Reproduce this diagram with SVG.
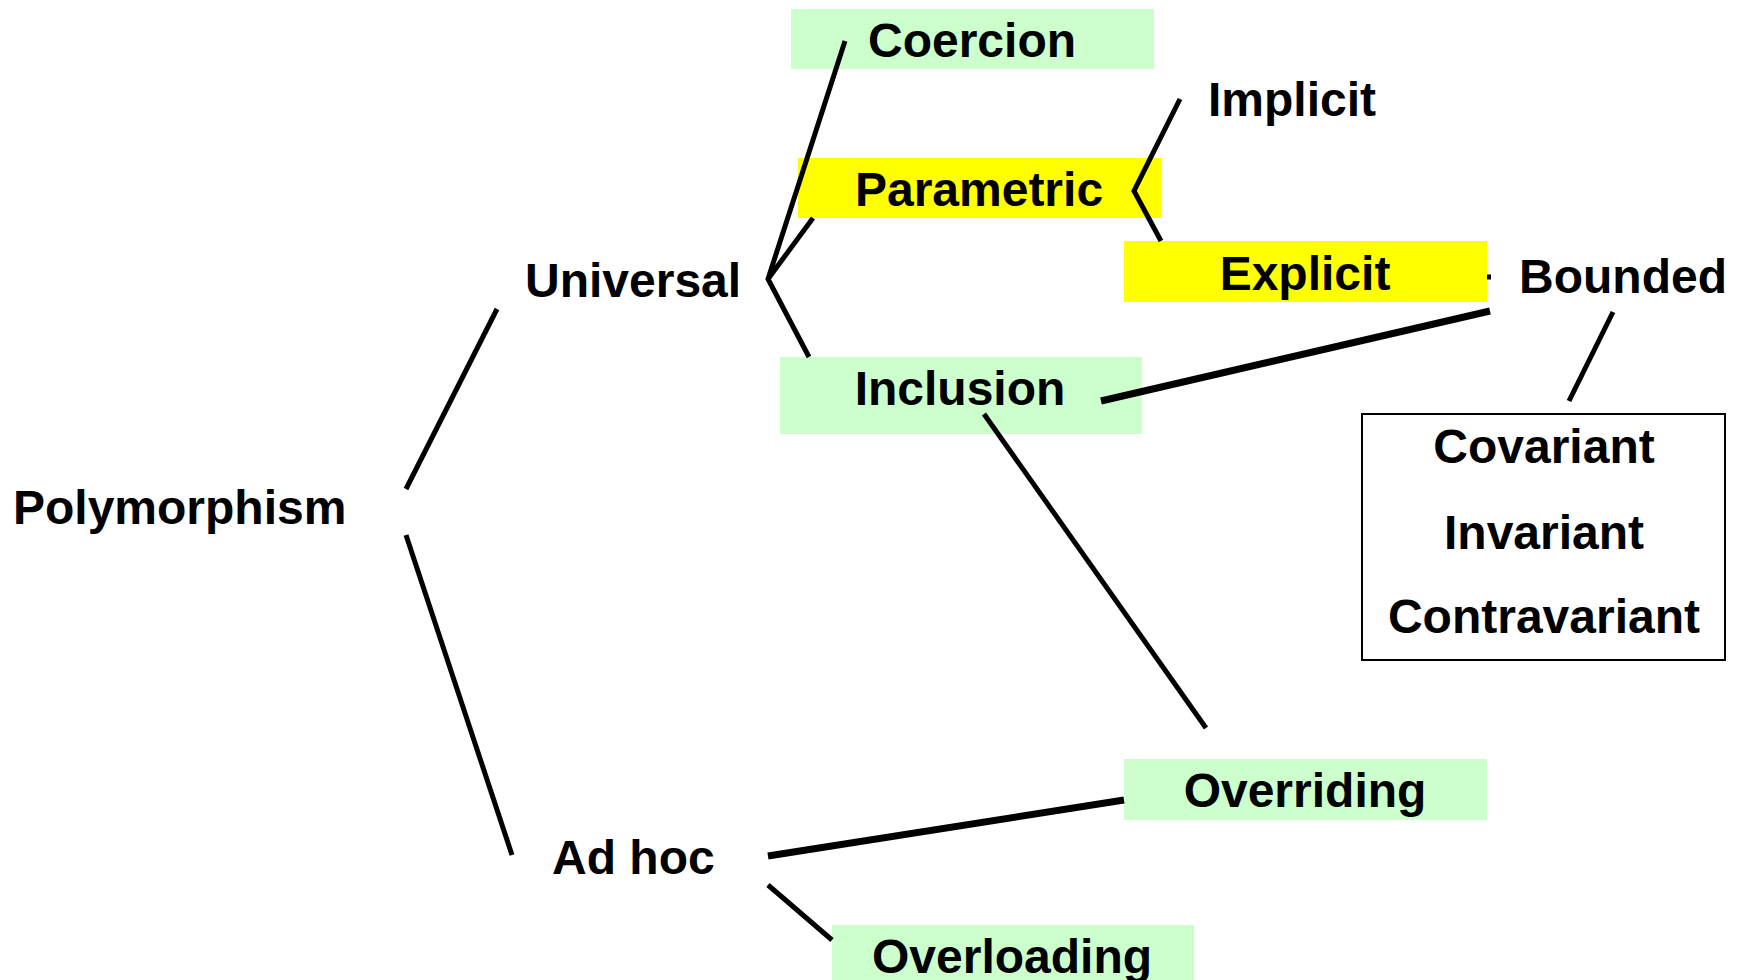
<svg xmlns="http://www.w3.org/2000/svg" width="1742" height="980" viewBox="0 0 1742 980">
<style>
text{font-family:"Liberation Sans",Arial,sans-serif;font-weight:bold;font-size:48px;fill:#000}
.c{text-anchor:middle}
.g{fill:#CCFFCC}
.y{fill:#FFFF00}
.ln{stroke:#000;stroke-width:5;fill:none;stroke-linecap:butt}
.th{stroke-width:7}
</style>
<rect width="1742" height="980" fill="#fff"/>
<g id="polymorphism"><text x="13" y="524">Polymorphism</text></g>
<g id="universal"><text x="525" y="297">Universal</text></g>
<g id="adhoc"><text x="552" y="874">Ad hoc</text></g>
<g id="coercion"><rect class="g" x="791" y="9" width="363" height="60"/><text class="c" x="972" y="57">Coercion</text></g>
<g id="parametric"><rect class="y" x="798" y="158" width="363" height="60"/><text class="c" x="979" y="206">Parametric</text></g>
<g id="implicit"><text x="1208" y="116">Implicit</text></g>
<g id="explicit"><rect class="y" x="1124" y="241" width="363" height="61"/><text class="c" x="1305" y="290">Explicit</text></g>
<g id="bounded"><text x="1519" y="293">Bounded</text></g>
<g id="inclusion"><rect class="g" x="780" y="357" width="362" height="77"/><text class="c" x="960" y="405">Inclusion</text></g>
<g id="variance"><rect x="1362" y="414" width="363" height="246" fill="#fff" stroke="#000" stroke-width="2"/>
<text class="c" x="1544" y="463">Covariant</text>
<text class="c" x="1544" y="549">Invariant</text>
<text class="c" x="1544" y="633">Contravariant</text></g>
<g id="overriding"><rect class="g" x="1124" y="759" width="363" height="61"/><text class="c" x="1305" y="807">Overriding</text></g>
<g id="overloading"><rect class="g" x="832" y="925" width="362" height="60"/><text class="c" x="1012" y="973">Overloading</text></g>
<g id="connectors">
<line class="ln" x1="406" y1="489" x2="497" y2="309"/>
<line class="ln" x1="406" y1="535" x2="512" y2="855"/>
<polyline class="ln" points="845,41 768,279 809,357"/>
<line class="ln" x1="768" y1="279" x2="813" y2="218"/>
<polyline class="ln" points="1180,99 1134,191 1161,241"/>
<line class="ln" x1="984" y1="414" x2="1206" y2="728"/>
<line class="ln th" x1="1101" y1="401" x2="1490" y2="311"/>
<line class="ln" x1="1613" y1="312" x2="1569" y2="401"/>
<line class="ln" x1="1487" y1="277" x2="1491" y2="277"/>
<line class="ln th" x1="768" y1="856" x2="1124" y2="800"/>
<line class="ln" x1="768" y1="885" x2="832" y2="940"/>
</g>
</svg>
